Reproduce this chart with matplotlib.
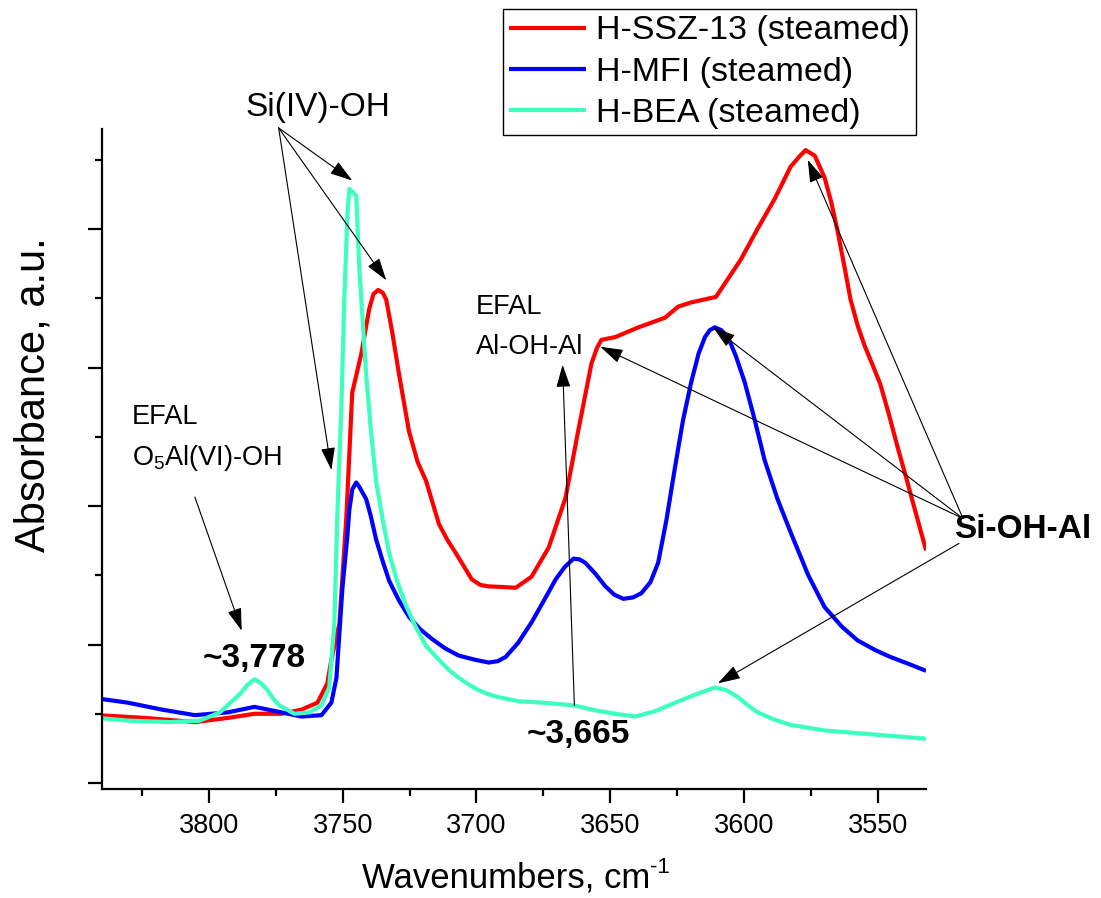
import matplotlib
matplotlib.use('Agg')
import matplotlib.pyplot as plt
from matplotlib.ticker import MultipleLocator

plt.rcParams['font.family'] = 'Liberation Sans'
plt.rcParams['mathtext.fontset'] = 'custom'
plt.rcParams['mathtext.rm'] = 'Liberation Sans'
plt.rcParams['mathtext.it'] = 'Liberation Sans:italic'
plt.rcParams['mathtext.bf'] = 'Liberation Sans:bold'

# H-SSZ-13 (steamed)
wn_ssz = [3841.3, 3823.8, 3805.2, 3792.9, 3782.9, 3772.8, 3765.4, 3759.4, 3755.7, 3754.2,
          3751.2, 3748.6, 3746.4, 3743.0, 3740.1, 3738.5, 3736.7, 3735.0, 3733.7, 3731.5,
          3728.9, 3725.2, 3722.0, 3718.8, 3714.0, 3711.0, 3707.7, 3701.7, 3698.5, 3695.4,
          3690.0, 3685.3, 3679.4, 3673.0, 3666.7, 3661.9, 3657.0, 3655.0, 3653.3, 3648.1,
          3639.5, 3629.5, 3624.6, 3619.8, 3610.5, 3601.2, 3595.0, 3588.5, 3582.6, 3579.5,
          3577.0, 3573.6, 3569.9, 3567.5, 3565.1, 3562.5, 3560.2, 3557.5, 3555.0, 3552.0,
          3549.1, 3546.0, 3542.7, 3539.5, 3536.4, 3532.0]
abs_ssz = [0.049, 0.047, 0.044, 0.047, 0.050, 0.050, 0.053, 0.058, 0.072, 0.089,
           0.115, 0.192, 0.282, 0.310, 0.342, 0.353, 0.356, 0.354, 0.349, 0.326,
           0.295, 0.254, 0.232, 0.218, 0.187, 0.176, 0.166, 0.147, 0.143, 0.142,
           0.1415, 0.141, 0.149, 0.170, 0.206, 0.255, 0.303, 0.314, 0.320, 0.322,
           0.329, 0.336, 0.344, 0.347, 0.351, 0.378, 0.400, 0.422, 0.445, 0.452,
           0.457, 0.453, 0.437, 0.420, 0.399, 0.373, 0.349, 0.330, 0.316, 0.302,
           0.288, 0.267, 0.243, 0.221, 0.199, 0.168]

# H-MFI (steamed)
wn_mfi = [3841.3, 3830.2, 3817.5, 3805.2, 3792.9, 3782.9, 3772.8, 3765.4, 3757.9, 3754.2,
          3752.3, 3750.1, 3748.2, 3747.5, 3746.4, 3744.9, 3743.8, 3741.2, 3739.5, 3737.5,
          3735.0, 3732.6, 3729.0, 3725.2, 3721.0, 3716.6, 3711.5, 3706.6, 3700.5, 3695.4,
          3692.0, 3689.1, 3684.5, 3679.4, 3675.0, 3670.4, 3667.0, 3663.7, 3661.5, 3659.3,
          3655.5, 3651.8, 3648.5, 3645.1, 3641.5, 3638.4, 3635.0, 3632.1, 3629.0, 3625.8,
          3622.8, 3619.8, 3617.0, 3614.6, 3612.8, 3610.9, 3608.5, 3606.0, 3603.0, 3599.7,
          3596.0, 3592.3, 3587.5, 3582.6, 3576.0, 3569.9, 3563.5, 3557.6, 3551.0, 3545.3,
          3538.5, 3532.0]
abs_mfi = [0.061, 0.058, 0.053, 0.049, 0.051, 0.055, 0.051, 0.048, 0.049, 0.058,
           0.076, 0.140, 0.179, 0.197, 0.212, 0.217, 0.214, 0.205, 0.193, 0.176,
           0.160, 0.146, 0.132, 0.120, 0.111, 0.104, 0.097, 0.092, 0.089, 0.087,
           0.088, 0.091, 0.101, 0.116, 0.131, 0.147, 0.156, 0.162, 0.1615, 0.159,
           0.151, 0.142, 0.136, 0.133, 0.134, 0.137, 0.145, 0.159, 0.190, 0.228,
           0.262, 0.289, 0.310, 0.322, 0.327, 0.329, 0.327, 0.322, 0.308, 0.289,
           0.262, 0.233, 0.205, 0.181, 0.150, 0.127, 0.113, 0.103, 0.096, 0.091,
           0.086, 0.081]

# H-BEA (steamed)
wn_bea = [3841.7, 3829.4, 3814.5, 3803.4, 3795.9, 3788.5, 3785.5, 3782.9, 3780.5, 3778.0,
          3776.0, 3773.6, 3768.0, 3762.4, 3757.9, 3755.0, 3753.1, 3752.0, 3750.5, 3749.4,
          3748.2, 3747.5, 3746.4, 3744.9, 3743.8, 3742.5, 3741.2, 3739.5, 3737.5, 3735.0,
          3732.6, 3729.5, 3726.3, 3722.5, 3718.8, 3714.0, 3710.5, 3706.6, 3702.8, 3699.1,
          3695.4, 3691.7, 3684.2, 3675.0, 3663.4, 3659.0, 3654.4, 3648.0, 3640.7, 3633.0,
          3625.8, 3618.0, 3610.9, 3606.5, 3602.3, 3598.5, 3594.9, 3589.0, 3582.6, 3570.0,
          3551.3, 3532.0]
abs_bea = [0.047, 0.045, 0.044, 0.045, 0.051, 0.064, 0.071, 0.075, 0.072, 0.067,
           0.061, 0.056, 0.050, 0.051, 0.056, 0.069, 0.115, 0.192, 0.269, 0.347,
           0.411, 0.429, 0.427, 0.424, 0.373, 0.334, 0.295, 0.256, 0.218, 0.190,
           0.166, 0.145, 0.128, 0.112, 0.099, 0.089, 0.082, 0.076, 0.071, 0.067,
           0.064, 0.062, 0.059, 0.058, 0.056, 0.054, 0.052, 0.050, 0.048, 0.052,
           0.058, 0.064, 0.069, 0.067, 0.062, 0.056, 0.051, 0.046, 0.042, 0.038,
           0.035, 0.032]

labels = ['H-SSZ-13 (steamed)', 'H-MFI (steamed)', 'H-BEA (steamed)']
colors = ['#ff0000', '#0000ff', '#3cffc0']
x_ticks = [3800, 3750, 3700, 3650, 3600, 3550]

fig = plt.figure(figsize=(11.01, 8.98), dpi=100)
ax = fig.add_axes([0.0924, 0.1214, 0.7487, 0.7349])

series = [(wn_ssz, abs_ssz), (wn_mfi, abs_mfi), (wn_bea, abs_bea)]
for (wn, ab), lab, col in zip(series, labels, colors):
    ax.plot(wn, ab, color=col, lw=3, label=lab, solid_joinstyle='round', solid_capstyle='butt')

ax.set_xlim(3840, 3532)
ax.set_ylim(-0.0043, 0.4722)
ax.set_xticks(x_ticks)
ax.xaxis.set_minor_locator(MultipleLocator(25))
ax.yaxis.set_major_locator(MultipleLocator(0.1))
ax.yaxis.set_minor_locator(MultipleLocator(0.05))
ax.tick_params(which='major', direction='out', length=10, width=1.6, labelsize=19.5, pad=7)
ax.tick_params(which='minor', direction='out', length=5, width=1.6)
ax.tick_params(axis='y', labelleft=False)
for s in ['top', 'right']:
    ax.spines[s].set_visible(False)
for s in ['left', 'bottom']:
    ax.spines[s].set_linewidth(1.6)

# x label with a plain hyphen in the superscript
ax.set_xlabel('Wavenumbers, cm', fontsize=25)
ax.xaxis.set_label_coords(0.49, -0.11)
ax.annotate('-1', xy=(1.0, 1.0), xycoords=ax.xaxis.label, xytext=(0.5, 3),
            textcoords='offset points', fontsize=16, ha='left', va='top')
ax.set_ylabel('Absorbance, a.u.', fontsize=30)
ax.yaxis.set_label_coords(-0.058, 0.597)

fig.legend(loc='lower left', bbox_to_anchor=(0.4569, 0.8497), borderaxespad=0,
           fontsize=24.5, handlelength=2.26, handletextpad=0.28, labelspacing=0.3,
           borderpad=0.18, fancybox=False, edgecolor='black', framealpha=1)
fig.legends[0].get_frame().set_linewidth(1.0)

arr = dict(arrowstyle='-|>,head_length=0.7,head_width=0.22', color='k', lw=0.8,
           shrinkA=0, shrinkB=0, mutation_scale=20)


def arrow(tip, start):
    ax.annotate('', xy=tip, xytext=start, arrowprops=arr, annotation_clip=False)


# Si(IV)-OH
ax.text(3759.2, 0.488, 'Si(IV)-OH', fontsize=24, ha='center', va='center', clip_on=False)
for tip in [(3746.4, 0.435), (3733.7, 0.363), (3754.2, 0.226)]:
    arrow(tip, (3773.9, 0.473))

# EFAL O5Al(VI)-OH
ax.text(3828.7, 0.264, 'EFAL', fontsize=19.5, ha='left', va='center')
ax.text(3828.7, 0.235, 'O$_\\mathregular{5}$Al(VI)-OH', fontsize=19.5, ha='left', va='center')
arrow((3787.7, 0.110), (3805.2, 0.2065))
ax.text(3782.9, 0.090, '~3,778', fontsize=24, fontweight='bold', ha='center', va='center')

# EFAL Al-OH-Al
ax.text(3700.2, 0.344, 'EFAL', fontsize=19.5, ha='left', va='center')
ax.text(3700.2, 0.315, 'Al-OH-Al', fontsize=19.5, ha='left', va='center')
arrow((3667.8, 0.302), (3663.4, 0.056))
ax.text(3661.9, 0.035, '~3,665', fontsize=24, fontweight='bold', ha='center', va='center')

# Si-OH-Al
ax.text(3495.8, 0.183, 'Si-OH-Al', fontsize=24, fontweight='bold', ha='center', va='center',
        clip_on=False)
for tip in [(3576.2, 0.450), (3611.6, 0.329), (3653.7, 0.315)]:
    arrow(tip, (3518.2, 0.191))
arrow((3609.8, 0.072), (3519.7, 0.173))

fig.savefig('out.png', dpi=100)
